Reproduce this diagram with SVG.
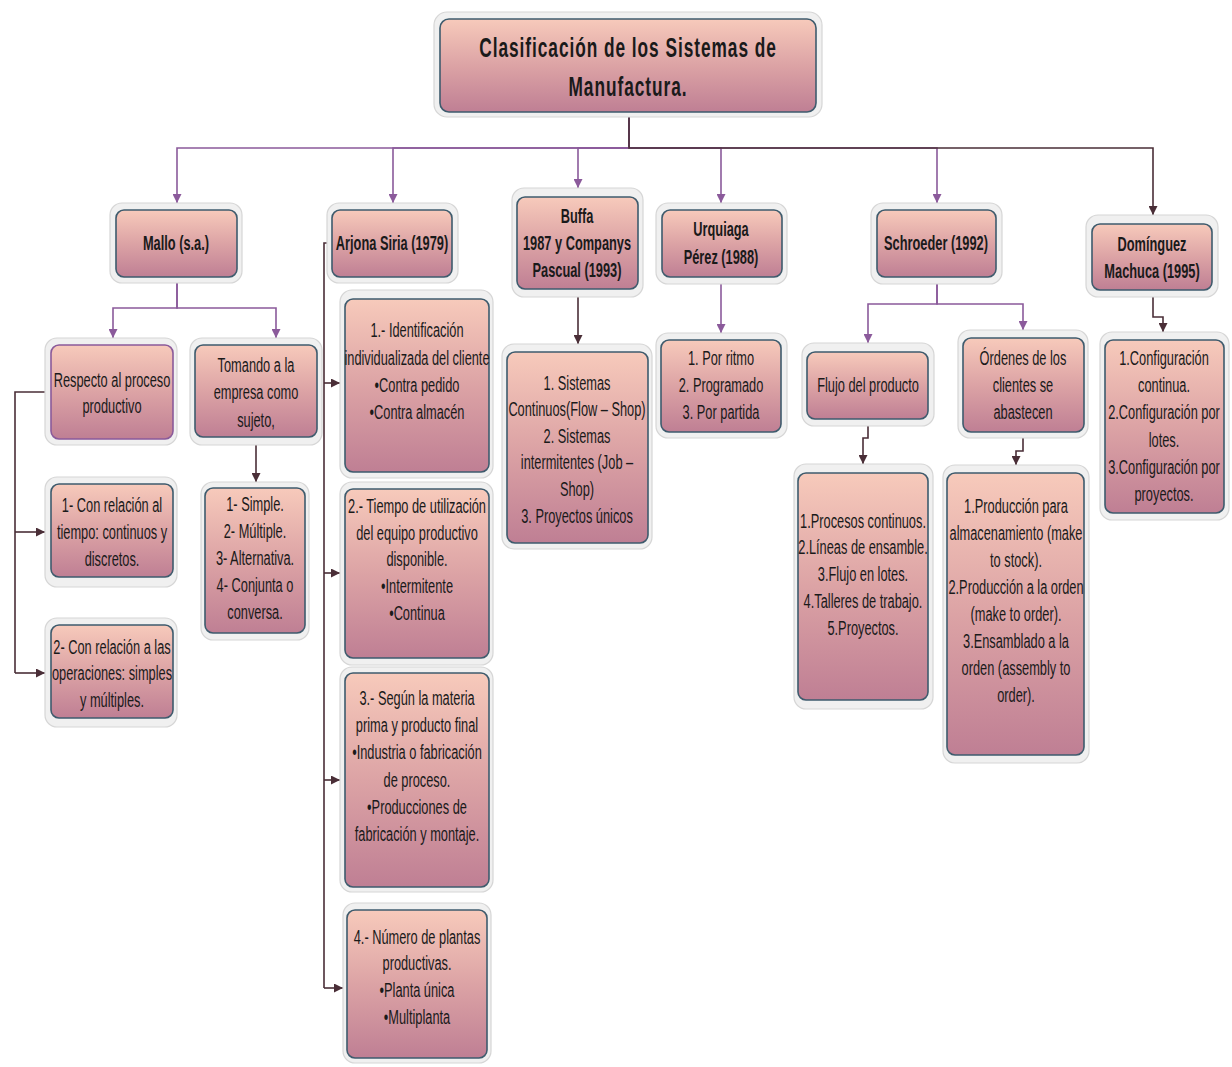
<svg xmlns="http://www.w3.org/2000/svg" width="1232" height="1067" viewBox="0 0 1232 1067">
  <defs>
    <linearGradient id="fillGrad" x1="0" y1="0" x2="0" y2="1">
      <stop offset="0" stop-color="#f7cabb"/>
      <stop offset="0.5" stop-color="#dca3a5"/>
      <stop offset="1" stop-color="#bf7f94"/>
    </linearGradient>
    <marker id="arrP" viewBox="0 0 10 10" refX="10" refY="5" markerWidth="9" markerHeight="9" markerUnits="userSpaceOnUse" orient="auto">
      <path d="M0,0 L10,5 L0,10 z" fill="#8b5a9b"/>
    </marker>
    <marker id="arrD" viewBox="0 0 10 10" refX="10" refY="5" markerWidth="9" markerHeight="9" markerUnits="userSpaceOnUse" orient="auto">
      <path d="M0,0 L10,5 L0,10 z" fill="#4a2e37"/>
    </marker>
  </defs>
  <style>
    .frame { fill: #f0f0f0; stroke: #d6d6d6; stroke-width: 1.2; }
    .box { fill: url(#fillGrad); stroke: #3e5b6d; stroke-width: 1.6; }
    .t { font-family: "Liberation Sans", Arial, sans-serif; font-size: 20px; fill: #1a1a1a; text-anchor: middle; }
    .tb { font-family: "Liberation Sans", Arial, sans-serif; font-size: 20px; font-weight: bold; fill: #1a1a1a; text-anchor: middle; }
    .title { font-family: "Liberation Sans", Arial, sans-serif; font-size: 27px; font-weight: bold; fill: #1a1a1a; text-anchor: middle; letter-spacing: 1.5px; }
    .cp { fill: none; stroke: #8b5a9b; stroke-width: 1.6; marker-end: url(#arrP); }
    .cd { fill: none; stroke: #4a2e37; stroke-width: 1.6; marker-end: url(#arrD); }
    .cdn { fill: none; stroke: #4a2e37; stroke-width: 1.6; }
  </style>
  <rect width="1232" height="1067" fill="#ffffff"/>

  <!-- connectors -->
  <g id="connectors">
    <!-- title to authors -->
    <path class="cp" d="M629,117 V148 H177 V203"/>
    <path class="cp" d="M629,117 V148 H393 V203"/>
    <path class="cp" d="M629,117 V148 H578 V188"/>
    <path class="cp" d="M629,117 V148 H721 V203"/>
    <path class="cp" d="M629,117 V148 H937 V203"/>
    <path class="cd" d="M629,117 V148 H1153 V215"/>
    <!-- Mallo -->
    <path class="cp" d="M177,283 V308 H113 V338"/>
    <path class="cp" d="M177,283 V308 H276 V338"/>
    <path class="cdn" d="M45,392 H15 V673"/>
    <path class="cd" d="M15,532 H45"/>
    <path class="cd" d="M15,673 H45"/>
    <path class="cd" d="M256,445 V482"/>
    <!-- Arjona Siria -->
    <path class="cdn" d="M332,243 H324 V988"/>
    <path class="cd" d="M324,383 H340"/>
    <path class="cd" d="M324,573 H340"/>
    <path class="cd" d="M324,780 H340"/>
    <path class="cd" d="M324,988 H343"/>
    <!-- Buffa / Urquiaga -->
    <path class="cd" d="M578,297 V344"/>
    <path class="cp" d="M721,284 V333"/>
    <!-- Schroeder -->
    <path class="cp" d="M937,284 V304 H868 V343"/>
    <path class="cp" d="M937,284 V304 H1023 V330"/>
    <path class="cd" d="M868,426 V438 H863 V464"/>
    <path class="cd" d="M1023,438 V451 H1016 V465"/>
    <!-- Dominguez -->
    <path class="cd" d="M1153,297 V317 H1163 V332"/>
  </g>

  <!-- title -->
  <g id="n-title">
    <rect class="frame" x="434" y="12" width="388" height="105" rx="13"/>
    <rect class="box" x="440" y="19" width="376" height="93" rx="9"/>
    <g transform="translate(628 0) scale(0.64 1)">
      <text class="title" x="0" y="57">Clasificación de los Sistemas de</text>
      <text class="title" x="0" y="96">Manufactura.</text>
    </g>
  </g>

  <!-- authors -->
  <g id="n-mallo">
    <rect class="frame" x="110" y="203" width="132" height="80" rx="12"/>
    <rect class="box" x="116" y="210" width="121" height="67" rx="8"/>
    <g transform="translate(176 0) scale(0.64 1)">
      <text class="tb" x="0" y="250">Mallo (s.a.)</text>
    </g>
  </g>
  <g id="n-arjona">
    <rect class="frame" x="327" y="203" width="131" height="80" rx="12"/>
    <rect class="box" x="332" y="210" width="120" height="67" rx="8"/>
    <g transform="translate(392 0) scale(0.64 1)">
      <text class="tb" x="0" y="250">Arjona Siria (1979)</text>
    </g>
  </g>
  <g id="n-buffa">
    <rect class="frame" x="512" y="188" width="131" height="109" rx="12"/>
    <rect class="box" x="517" y="197" width="121" height="92" rx="8"/>
    <g transform="translate(577 0) scale(0.64 1)">
      <text class="tb" x="0" y="223">Buffa</text>
      <text class="tb" x="0" y="250">1987 y Companys</text>
      <text class="tb" x="0" y="277">Pascual (1993)</text>
    </g>
  </g>
  <g id="n-urquiaga">
    <rect class="frame" x="656" y="203" width="131" height="81" rx="12"/>
    <rect class="box" x="662" y="210" width="120" height="67" rx="8"/>
    <g transform="translate(721 0) scale(0.64 1)">
      <text class="tb" x="0" y="236">Urquiaga</text>
      <text class="tb" x="0" y="264">Pérez (1988)</text>
    </g>
  </g>
  <g id="n-schroeder">
    <rect class="frame" x="871" y="203" width="131" height="81" rx="12"/>
    <rect class="box" x="877" y="210" width="119" height="67" rx="8"/>
    <g transform="translate(936 0) scale(0.64 1)">
      <text class="tb" x="0" y="250">Schroeder (1992)</text>
    </g>
  </g>
  <g id="n-dominguez">
    <rect class="frame" x="1086" y="215" width="132" height="82" rx="12"/>
    <rect class="box" x="1092" y="224" width="120" height="66" rx="8"/>
    <g transform="translate(1152 0) scale(0.64 1)">
      <text class="tb" x="0" y="251">Domínguez</text>
      <text class="tb" x="0" y="278">Machuca (1995)</text>
    </g>
  </g>

  <!-- Mallo branch -->
  <g id="n-respecto">
    <rect class="frame" x="45" y="338" width="132" height="107" rx="12"/>
    <rect class="box" x="51" y="345" width="122" height="94" rx="8" style="stroke:#8a5a9a"/>
    <g transform="translate(112 0) scale(0.64 1)">
      <text class="t" x="0" y="387">Respecto al proceso</text>
      <text class="t" x="0" y="413">productivo</text>
    </g>
  </g>
  <g id="n-tomando">
    <rect class="frame" x="190" y="338" width="132" height="107" rx="12"/>
    <rect class="box" x="195" y="345" width="122" height="92" rx="8"/>
    <g transform="translate(256 0) scale(0.64 1)">
      <text class="t" x="0" y="372">Tomando a la</text>
      <text class="t" x="0" y="399">empresa como</text>
      <text class="t" x="0" y="427">sujeto,</text>
    </g>
  </g>
  <g id="n-tiempo">
    <rect class="frame" x="45" y="477" width="132" height="110" rx="12"/>
    <rect class="box" x="51" y="484" width="122" height="93" rx="8"/>
    <g transform="translate(112 0) scale(0.64 1)">
      <text class="t" x="0" y="512">1- Con relación al</text>
      <text class="t" x="0" y="539">tiempo:  continuos y</text>
      <text class="t" x="0" y="566">discretos.</text>
    </g>
  </g>
  <g id="n-operaciones">
    <rect class="frame" x="45" y="618" width="132" height="109" rx="12"/>
    <rect class="box" x="51" y="625" width="122" height="93" rx="8"/>
    <g transform="translate(112 0) scale(0.64 1)">
      <text class="t" x="0" y="654">2- Con relación a las</text>
      <text class="t" x="0" y="680">operaciones:  simples</text>
      <text class="t" x="0" y="707">y  múltiples.</text>
    </g>
  </g>
  <g id="n-simple">
    <rect class="frame" x="201" y="482" width="108" height="158" rx="12"/>
    <rect class="box" x="205" y="488" width="100" height="145" rx="8"/>
    <g transform="translate(255 0) scale(0.64 1)">
      <text class="t" x="0" y="511">1- Simple.</text>
      <text class="t" x="0" y="538">2- Múltiple.</text>
      <text class="t" x="0" y="565">3- Alternativa.</text>
      <text class="t" x="0" y="592">4- Conjunta o</text>
      <text class="t" x="0" y="619">conversa.</text>
    </g>
  </g>

  <!-- Arjona Siria branch -->
  <g id="n-arjona-1">
    <rect class="frame" x="340" y="290" width="153" height="188" rx="12"/>
    <rect class="box" x="345" y="299" width="144" height="173" rx="8"/>
    <g transform="translate(417 0) scale(0.64 1)">
      <text class="t" x="0" y="337">1.- Identificación</text>
      <text class="t" x="0" y="365">individualizada del cliente</text>
      <text class="t" x="0" y="392">•Contra pedido</text>
      <text class="t" x="0" y="419">•Contra almacén</text>
    </g>
  </g>
  <g id="n-arjona-2">
    <rect class="frame" x="340" y="482" width="153" height="183" rx="12"/>
    <rect class="box" x="345" y="489" width="144" height="169" rx="8"/>
    <g transform="translate(417 0) scale(0.64 1)">
      <text class="t" x="0" y="513">2.- Tiempo de utilización</text>
      <text class="t" x="0" y="540">del equipo productivo</text>
      <text class="t" x="0" y="566">disponible.</text>
      <text class="t" x="0" y="593">•Intermitente</text>
      <text class="t" x="0" y="620">•Continua</text>
    </g>
  </g>
  <g id="n-arjona-3">
    <rect class="frame" x="340" y="667" width="153" height="225" rx="12"/>
    <rect class="box" x="345" y="673" width="144" height="214" rx="8"/>
    <g transform="translate(417 0) scale(0.64 1)">
      <text class="t" x="0" y="705">3.- Según la materia</text>
      <text class="t" x="0" y="732">prima y  producto final</text>
      <text class="t" x="0" y="759">•Industria o fabricación</text>
      <text class="t" x="0" y="787">de proceso.</text>
      <text class="t" x="0" y="814">•Producciones de</text>
      <text class="t" x="0" y="841">fabricación y  montaje.</text>
    </g>
  </g>
  <g id="n-arjona-4">
    <rect class="frame" x="343" y="903" width="148" height="160" rx="12"/>
    <rect class="box" x="347" y="910" width="140" height="148" rx="8"/>
    <g transform="translate(417 0) scale(0.64 1)">
      <text class="t" x="0" y="944">4.- Número de plantas</text>
      <text class="t" x="0" y="970">productivas.</text>
      <text class="t" x="0" y="997">•Planta única</text>
      <text class="t" x="0" y="1024">•Multiplanta</text>
    </g>
  </g>

  <!-- Buffa branch -->
  <g id="n-buffa-1">
    <rect class="frame" x="502" y="344" width="150" height="205" rx="12"/>
    <rect class="box" x="507" y="352" width="141" height="191" rx="8"/>
    <g transform="translate(577 0) scale(0.64 1)">
      <text class="t" x="0" y="390">1.  Sistemas</text>
      <text class="t" x="0" y="416">Continuos(Flow – Shop)</text>
      <text class="t" x="0" y="443">2.  Sistemas</text>
      <text class="t" x="0" y="469">intermitentes (Job –</text>
      <text class="t" x="0" y="496">Shop)</text>
      <text class="t" x="0" y="523">3.  Proyectos únicos</text>
    </g>
  </g>

  <!-- Urquiaga branch -->
  <g id="n-urquiaga-1">
    <rect class="frame" x="656" y="333" width="131" height="105" rx="12"/>
    <rect class="box" x="661" y="340" width="120" height="92" rx="8"/>
    <g transform="translate(721 0) scale(0.64 1)">
      <text class="t" x="0" y="365">1. Por ritmo</text>
      <text class="t" x="0" y="392">2. Programado</text>
      <text class="t" x="0" y="419">3. Por partida</text>
    </g>
  </g>

  <!-- Schroeder branch -->
  <g id="n-flujo">
    <rect class="frame" x="802" y="343" width="132" height="83" rx="12"/>
    <rect class="box" x="807" y="352" width="121" height="67" rx="8"/>
    <g transform="translate(868 0) scale(0.64 1)">
      <text class="t" x="0" y="392">Flujo del producto</text>
    </g>
  </g>
  <g id="n-ordenes">
    <rect class="frame" x="958" y="330" width="130" height="108" rx="12"/>
    <rect class="box" x="963" y="338" width="121" height="94" rx="8"/>
    <g transform="translate(1023 0) scale(0.64 1)">
      <text class="t" x="0" y="365">Órdenes de los</text>
      <text class="t" x="0" y="392">clientes se</text>
      <text class="t" x="0" y="419">abastecen</text>
    </g>
  </g>
  <g id="n-flujo-1">
    <rect class="frame" x="794" y="464" width="139" height="245" rx="12"/>
    <rect class="box" x="798" y="473" width="130" height="227" rx="8"/>
    <g transform="translate(863 0) scale(0.64 1)">
      <text class="t" x="0" y="528">1.Procesos continuos.</text>
      <text class="t" x="0" y="554">2.Líneas de ensamble.</text>
      <text class="t" x="0" y="581">3.Flujo en lotes.</text>
      <text class="t" x="0" y="608">4.Talleres de trabajo.</text>
      <text class="t" x="0" y="635">5.Proyectos.</text>
    </g>
  </g>
  <g id="n-ordenes-1">
    <rect class="frame" x="943" y="465" width="146" height="298" rx="12"/>
    <rect class="box" x="947" y="473" width="137" height="282" rx="8"/>
    <g transform="translate(1016 0) scale(0.64 1)">
      <text class="t" x="0" y="513">1.Producción para</text>
      <text class="t" x="0" y="540">almacenamiento (make</text>
      <text class="t" x="0" y="567">to stock).</text>
      <text class="t" x="0" y="594">2.Producción a la orden</text>
      <text class="t" x="0" y="621">(make to order).</text>
      <text class="t" x="0" y="648">3.Ensamblado a la</text>
      <text class="t" x="0" y="675">orden (assembly to</text>
      <text class="t" x="0" y="702">order).</text>
    </g>
  </g>

  <!-- Dominguez branch -->
  <g id="n-dominguez-1">
    <rect class="frame" x="1100" y="332" width="129" height="188" rx="12"/>
    <rect class="box" x="1105" y="340" width="119" height="173" rx="8"/>
    <g transform="translate(1164 0) scale(0.64 1)">
      <text class="t" x="0" y="365">1.Configuración</text>
      <text class="t" x="0" y="392">continua.</text>
      <text class="t" x="0" y="419">2.Configuración por</text>
      <text class="t" x="0" y="447">lotes.</text>
      <text class="t" x="0" y="474">3.Configuración por</text>
      <text class="t" x="0" y="501">proyectos.</text>
    </g>
  </g>
</svg>
